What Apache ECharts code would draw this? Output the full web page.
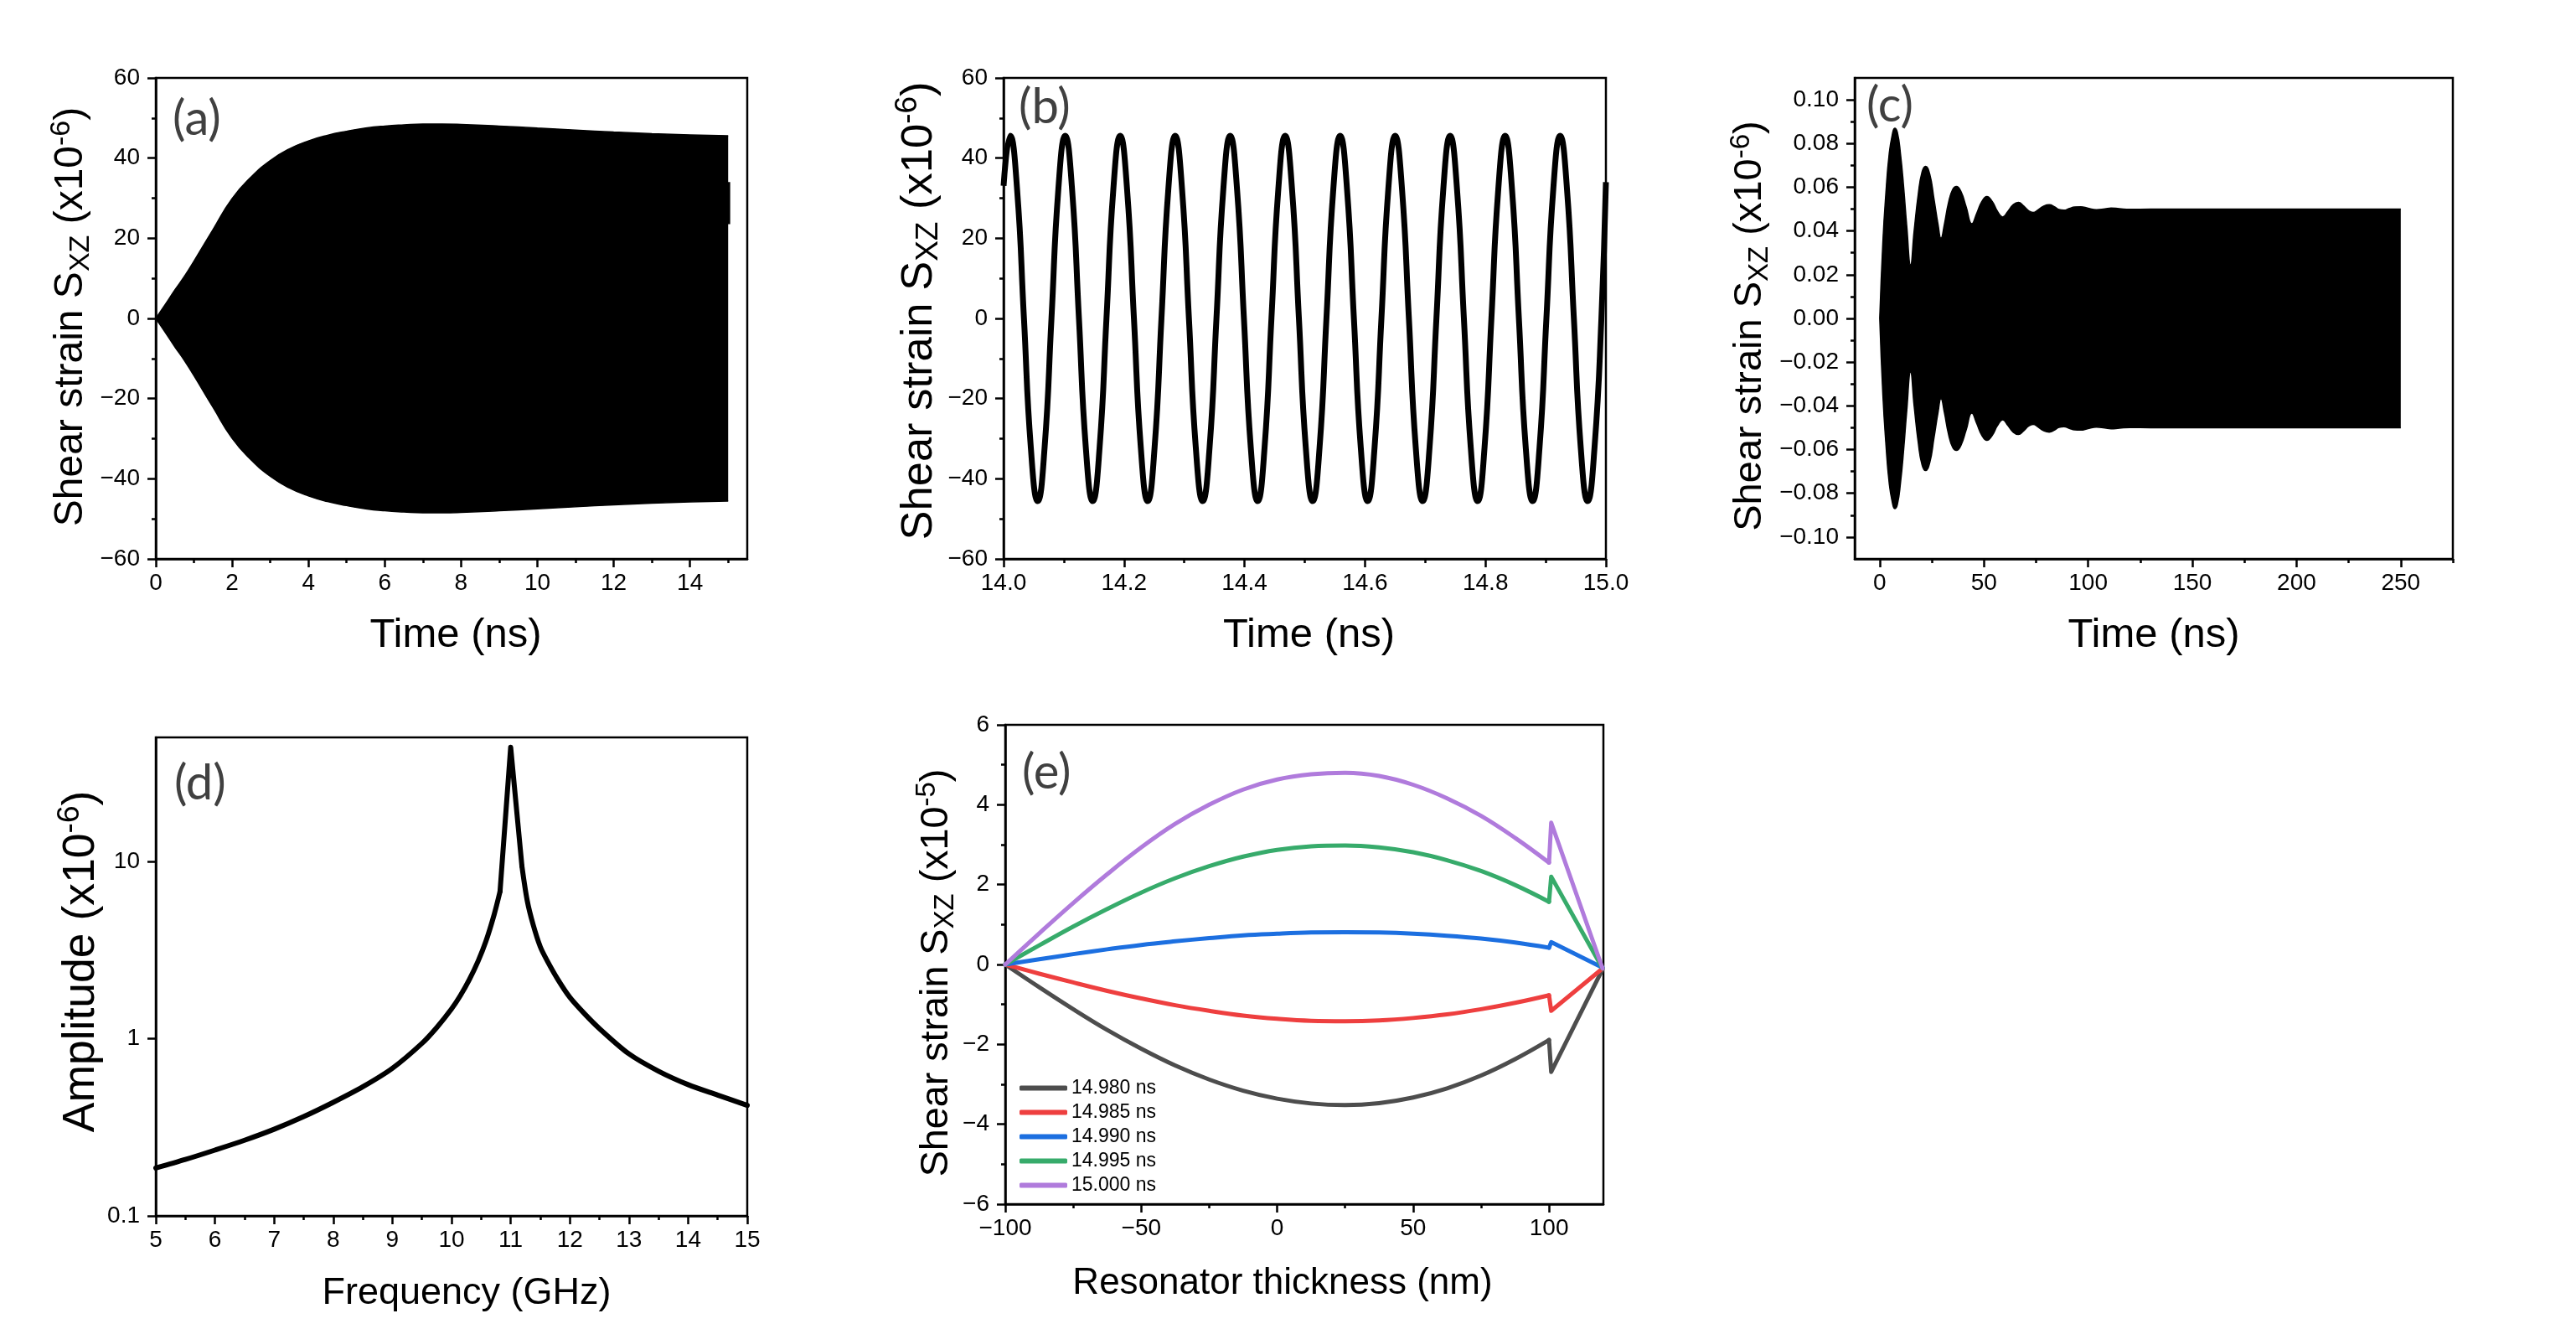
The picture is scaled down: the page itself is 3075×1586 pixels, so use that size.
<!DOCTYPE html>
<html>
<head>
<meta charset="utf-8">
<script src="https://cdn.jsdelivr.net/npm/echarts@6/dist/echarts.min.js"></script>
<style>
html,body{margin:0;padding:0;background:#fff;}
#c{width:3075px;height:1586px;}
</style>
</head>
<body>
<div id="c"></div>
<script>
// ---------------- (a) envelope of the driven oscillation, 0-15 ns ----------------
const aTime  = [0,0.25,0.5,0.75,1,1.5,2,2.5,3,3.5,4,4.5,5,5.5,6,6.5,7,7.5,8,9,10,11,12,13,14,15];
const aUpper = [0,3.5,7.1,10.5,14.3,22.2,29.9,35.3,39.4,42.3,44.3,45.7,46.7,47.5,48.0,48.3,48.5,48.5,48.4,48.0,47.5,47.0,46.5,46.1,45.8,45.6];
const aLower = [0,-3.5,-7.1,-10.5,-14.3,-22.2,-29.9,-35.3,-39.4,-42.3,-44.3,-45.7,-46.7,-47.5,-48.0,-48.3,-48.5,-48.5,-48.4,-48.0,-47.5,-47.0,-46.5,-46.1,-45.8,-45.6];
const aEndTime = [15.02,15.02];
const aEndStrain = [23.5,34];
const aXTicks = [0,2,4,6,8,10,12,14];
const aXMinor = [1,3,5,7,9,11,13,15];
const aYTicks = [-60,-40,-20,0,20,40,60];
const aYMinor = [-50,-30,-10,10,30,50];

// ---------------- (b) 14-15 ns detail ----------------
const bTime = [14.0000,
 14.0110,14.0224,14.0338,14.0452,14.0567,14.0681,14.0795,14.0909,
 14.1023,14.1137,14.1251,14.1365,14.1480,14.1594,14.1708,14.1822,
 14.1936,14.2050,14.2164,14.2278,14.2393,14.2507,14.2621,14.2735,
 14.2849,14.2963,14.3077,14.3191,14.3306,14.3420,14.3534,14.3648,
 14.3762,14.3876,14.3990,14.4104,14.4219,14.4333,14.4447,14.4561,
 14.4675,14.4789,14.4903,14.5017,14.5132,14.5246,14.5360,14.5474,
 14.5588,14.5702,14.5816,14.5930,14.6045,14.6159,14.6273,14.6387,
 14.6501,14.6615,14.6729,14.6843,14.6958,14.7072,14.7186,14.7300,
 14.7414,14.7528,14.7642,14.7756,14.7871,14.7985,14.8099,14.8213,
 14.8327,14.8441,14.8555,14.8669,14.8784,14.8898,14.9012,14.9126,
 14.9240,14.9354,14.9468,14.9582,14.9697,14.9811,14.9925,
 15.0000];
const bStrain = [33.1,
 45.6,32.2,0,-32.2,-45.6,-32.2,0,32.2,
 45.6,32.2,0,-32.2,-45.6,-32.2,0,32.2,
 45.6,32.2,0,-32.2,-45.6,-32.2,0,32.2,
 45.6,32.2,0,-32.2,-45.6,-32.2,0,32.2,
 45.6,32.2,0,-32.2,-45.6,-32.2,0,32.2,
 45.6,32.2,0,-32.2,-45.6,-32.2,0,32.2,
 45.6,32.2,0,-32.2,-45.6,-32.2,0,32.2,
 45.6,32.2,0,-32.2,-45.6,-32.2,0,32.2,
 45.6,32.2,0,-32.2,-45.6,-32.2,0,32.2,
 45.6,32.2,0,-32.2,-45.6,-32.2,0,32.2,
 45.6,32.2,0,-32.2,-45.6,-32.2,0,
 34.0];
const bXTicks = [14.0,14.2,14.4,14.6,14.8,15.0];
const bXMinor = [14.1,14.3,14.5,14.7,14.9];
const bYTicks = [-60,-40,-20,0,20,40,60];
const bYMinor = [-50,-30,-10,10,30,50];

// ---------------- (c) 0-250 ns envelope ----------------
const cTime  = [0,1.5,3,4.5,6,7.2,8.5,10,11.5,13,14.8,16.5,18.5,20.3,22,24,26,28,29.4,31,33,35,36.8,39,41.5,44.2,46.5,49,51.4,54,56.5,59,61.5,64,66.5,69,71.5,73.6,76,78.5,81.3,84,86,88.4,91,93.5,96.4,100,104,108,111,115,120,130,250];
const cUpper = [0,0.035,0.058,0.075,0.084,0.087,0.085,0.075,0.060,0.042,0.0245,0.040,0.057,0.067,0.0696,0.066,0.055,0.043,0.0367,0.043,0.053,0.059,0.0604,0.058,0.051,0.0433,0.048,0.0535,0.0558,0.0535,0.049,0.0464,0.049,0.052,0.0531,0.0515,0.0492,0.0485,0.0497,0.0513,0.052,0.051,0.0498,0.0495,0.0503,0.051,0.0511,0.0504,0.0497,0.0501,0.0505,0.0502,0.0499,0.050,0.050];
const cLower = [0,-0.035,-0.058,-0.075,-0.084,-0.087,-0.085,-0.075,-0.060,-0.042,-0.0245,-0.040,-0.057,-0.067,-0.0696,-0.066,-0.055,-0.043,-0.0367,-0.043,-0.053,-0.059,-0.0604,-0.058,-0.051,-0.0433,-0.048,-0.0535,-0.0558,-0.0535,-0.049,-0.0464,-0.049,-0.052,-0.0531,-0.0515,-0.0492,-0.0485,-0.0497,-0.0513,-0.052,-0.051,-0.0498,-0.0495,-0.0503,-0.051,-0.0511,-0.0504,-0.0497,-0.0501,-0.0505,-0.0502,-0.0499,-0.050,-0.050];
const cXTicks = [0,50,100,150,200,250];
const cXMinor = [25,75,125,175,225,275];
const cYTicks = [-0.10,-0.08,-0.06,-0.04,-0.02,0,0.02,0.04,0.06,0.08,0.10];
const cYMinor = [-0.09,-0.07,-0.05,-0.03,-0.01,0.01,0.03,0.05,0.07,0.09];

// ---------------- (d) spectrum ----------------
const dFreq = [5,5.5,6,6.5,7,7.5,8,8.5,9,9.5,9.75,10,10.15,10.3,10.45,10.58,10.72,10.82,11.0,11.19,11.28,11.38,11.5,11.62,11.8,12.0,12.25,12.5,13,13.5,14,14.5,15];
const dAmp  = [0.186,0.208,0.235,0.267,0.308,0.363,0.437,0.535,0.68,0.94,1.155,1.47,1.75,2.15,2.74,3.53,5.0,6.76,44,9.4,6.0,4.39,3.3,2.74,2.15,1.71,1.38,1.14,0.82,0.655,0.55,0.48,0.42];
const dXTicks = [5,6,7,8,9,10,11,12,13,14,15];
const dXMinor = [5.5,6.5,7.5,8.5,9.5,10.5,11.5,12.5,13.5,14.5];
const dYTicks = [0.1,1,10];

// ---------------- (e) strain profiles across thickness ----------------
const eThick = [-100,-87.5,-75,-62.5,-50,-37.5,-25,-12.5,0,12.5,25,37.5,50,62.5,75,87.5,100,100.8,119.7];
const e14980 = [0,-0.57,-1.12,-1.64,-2.11,-2.53,-2.88,-3.16,-3.36,-3.48,-3.52,-3.47,-3.33,-3.1,-2.78,-2.37,-1.89,-2.69,-0.12];
const e14985 = [0,-0.23,-0.45,-0.66,-0.85,-1.02,-1.16,-1.28,-1.36,-1.41,-1.42,-1.4,-1.34,-1.25,-1.12,-0.96,-0.77,-1.16,-0.1];
const e14990 = [0,0.13,0.26,0.38,0.49,0.58,0.66,0.73,0.77,0.8,0.81,0.8,0.77,0.72,0.65,0.55,0.42,0.56,-0.08];
const e14995 = [0,0.48,0.95,1.39,1.8,2.16,2.46,2.7,2.87,2.96,2.98,2.93,2.81,2.61,2.34,1.99,1.57,2.2,-0.1];
const e15000 = [0,0.78,1.54,2.26,2.93,3.52,4.0,4.38,4.63,4.76,4.8,4.72,4.5,4.16,3.72,3.17,2.55,3.55,-0.1];
const eLabels = ['14.980 ns','14.985 ns','14.990 ns','14.995 ns','15.000 ns'];
const eColors = ['#4d4d4d','#ee3f3f','#1c6fe0','#37ab6b','#b07bdc'];
const eXTicks = [-100,-50,0,50,100];
const eXMinor = [-75,-25,25,75];
const eYTicks = [-6,-4,-2,0,2,4,6];
const eYMinor = [-5,-3,-1,1,3,5];

// ---------------- helpers ----------------
const FONT = '"Liberation Sans", Arial, sans-serif';
const zip = (xs, ys) => xs.map((x, i) => [x, ys[i]]);
const minus = s => String(s).replace(/^-/, '\u2212');

function titleRich(fs) {
  const small = Math.round(fs * 0.7);
  return {
    n:   {fontSize: fs, fontFamily: FONT, color: '#000', lineHeight: fs, padding: [Math.round(fs*0.17),0,0,0], verticalAlign: 'top'},
    sub: {fontSize: small, fontFamily: FONT, color: '#000', lineHeight: small, padding: [Math.round(fs*0.56),0,0,0], verticalAlign: 'top'},
    sup: {fontSize: small, fontFamily: FONT, color: '#000', lineHeight: small, padding: [Math.round(fs*0.08),0,0,0], verticalAlign: 'top'}
  };
}
// shift: moves the title along its axis (pixels; + = right for x titles, up for y titles)
function mainAxis(dim, gi, min, max, ticks, fmt, name, gap, fs, shift, type) {
  const pad = shift >= 0 ? [0, 0, 0, 2 * shift] : [0, -2 * shift, 0, 0];
  const a = {
    type: type || 'value', gridIndex: gi, min: min, max: max,
    position: dim === 'x' ? 'bottom' : 'left',
    axisLine: {show: true, onZero: false, lineStyle: {color: '#000', width: 2.5}},
    axisTick: {show: true, inside: false, length: 10, customValues: ticks, lineStyle: {color: '#000', width: 2.5}},
    axisLabel: {show: true, customValues: ticks, formatter: fmt, margin: dim === 'x' ? 15 : 19,
                color: '#000', fontSize: 28, fontFamily: FONT},
    splitLine: {show: false},
    name: name, nameLocation: 'middle', nameGap: gap,
    nameTextStyle: {fontSize: fs, fontFamily: FONT, color: '#000', padding: pad, rich: titleRich(fs)}
  };
  if (type === 'log') a.logBase = 10;
  return a;
}
function minorAxis(dim, gi, min, max, ticks) {
  return {
    type: 'value', gridIndex: gi, min: min, max: max,
    position: dim === 'x' ? 'bottom' : 'left',
    axisLine: {show: false, onZero: false},
    axisTick: {show: true, inside: false, length: 5, customValues: ticks, lineStyle: {color: '#000', width: 2.5}},
    axisLabel: {show: false},
    splitLine: {show: false}
  };
}
const strainTitle6 = '{n|Shear strain S}{sub|XZ}{n| (x10}{sup|-6}{n|)}';
const strainTitle5 = '{n|Shear strain S}{sub|XZ}{n| (x10}{sup|-5}{n|)}';
const ampTitle = '{n|Amplitude (x10}{sup|-6}{n|)}';

const grids = [
  {left: 186,  top: 93,  width: 706, height: 574},
  {left: 1198, top: 93,  width: 719, height: 574},
  {left: 2214, top: 93,  width: 714, height: 574},
  {left: 186,  top: 880, width: 706, height: 571},
  {left: 1200, top: 865, width: 714, height: 572}
].map(g => Object.assign(g, {show: true, borderColor: '#000', borderWidth: 2.5, backgroundColor: 'transparent', containLabel: false}));

const xAxes = [
  mainAxis('x', 0, 0, 15.5, aXTicks, v => String(v), 'Time (ns)', 67, 49, 5),
  mainAxis('x', 1, 14, 15, bXTicks, v => v.toFixed(1), 'Time (ns)', 67, 49, 5),
  mainAxis('x', 2, -12, 275, cXTicks, v => String(v), 'Time (ns)', 67, 49, 0),
  mainAxis('x', 3, 5, 15, dXTicks, v => String(v), 'Frequency (GHz)', 70, 45, 18),
  mainAxis('x', 4, -100, 120, eXTicks, v => minus(v), 'Resonator thickness (nm)', 73, 44, -26),
  minorAxis('x', 0, 0, 15.5, aXMinor),
  minorAxis('x', 1, 14, 15, bXMinor),
  minorAxis('x', 2, -12, 275, cXMinor),
  minorAxis('x', 3, 5, 15, dXMinor),
  minorAxis('x', 4, -100, 120, eXMinor)
];
const yAxes = [
  mainAxis('y', 0, -60, 60, aYTicks, v => minus(v), strainTitle6, 85, 48, 2),
  mainAxis('y', 1, -60, 60, bYTicks, v => minus(v), strainTitle6, 77, 52.5, 9),
  mainAxis('y', 2, -0.11, 0.11, cYTicks, v => minus(Number(v).toFixed(2)), strainTitle6, 109, 47, -9),
  mainAxis('y', 3, 0.1, 50, dYTicks, v => String(v), ampTitle, 69, 53.5, 18, 'log'),
  mainAxis('y', 4, -6, 6, eYTicks, v => minus(v), strainTitle5, 66, 46.7, -10),
  minorAxis('y', 0, -60, 60, aYMinor),
  minorAxis('y', 1, -60, 60, bYMinor),
  minorAxis('y', 2, -0.11, 0.11, cYMinor),
  minorAxis('y', 4, -6, 6, eYMinor)
];

const bandStyle = (gi, data) => ({
  type: 'line', xAxisIndex: gi, yAxisIndex: gi, data: data, symbol: 'none', smooth: 0.5,
  lineStyle: {color: '#000', width: 1.5}, areaStyle: {color: '#000', opacity: 1}, silent: true
});
const dLine = (data, smooth) => ({
  type: 'line', xAxisIndex: 3, yAxisIndex: 3, data: data, symbol: 'none', smooth: smooth,
  lineStyle: {color: '#000', width: 6, join: 'round', cap: 'round'}, silent: true
});

const dPts = zip(dFreq, dAmp);
const series = [
  bandStyle(0, zip(aTime, aUpper)),
  bandStyle(0, zip(aTime, aLower)),
  {type: 'line', xAxisIndex: 0, yAxisIndex: 0, data: zip(aEndTime, aEndStrain), symbol: 'none',
   lineStyle: {color: '#000', width: 3}, silent: true},
  {type: 'line', xAxisIndex: 1, yAxisIndex: 1, data: zip(bTime, bStrain), symbol: 'none', smooth: 0.5,
   lineStyle: {color: '#000', width: 7}, silent: true},
  bandStyle(2, zip(cTime, cUpper)),
  bandStyle(2, zip(cTime, cLower)),
  dLine(dPts.slice(0, 18), 0.3),
  dLine(dPts.slice(17, 20), false),
  dLine(dPts.slice(19), 0.3)
];
const eSeriesData = [e14980, e14985, e14990, e14995, e15000];
eSeriesData.forEach((vals, i) => {
  const pts = zip(eThick, vals);
  const base = {
    type: 'line', name: eLabels[i], xAxisIndex: 4, yAxisIndex: 4, symbol: 'none',
    lineStyle: {color: eColors[i], width: 5, join: 'round', cap: 'round'}, itemStyle: {color: eColors[i]},
    z: 3 + i, silent: true
  };
  series.push(Object.assign({}, base, {data: pts.slice(0, 17), smooth: 0.4}));
  series.push(Object.assign({}, base, {data: pts.slice(16), smooth: false}));
});

const panelLabels = [
  {t: '(a)', x: 206,  y: 113},
  {t: '(b)', x: 1216, y: 99},
  {t: '(c)', x: 2228, y: 97},
  {t: '(d)', x: 208,  y: 906},
  {t: '(e)', x: 1220, y: 893}
];

const chart = echarts.init(document.getElementById('c'), null, {renderer: 'canvas', devicePixelRatio: 1});
chart.setOption({
  animation: false,
  backgroundColor: '#fff',
  grid: grids,
  xAxis: xAxes,
  yAxis: yAxes,
  legend: {
    data: eLabels, orient: 'vertical', left: 1217, top: 1287, padding: 0,
    icon: 'roundRect', itemWidth: 57, itemHeight: 6, itemGap: 6,
    textStyle: {fontSize: 23, lineHeight: 22, color: '#000', fontFamily: FONT},
    selectedMode: false
  },
  graphic: panelLabels.map(p => ({
    type: 'text', x: p.x, y: p.y, silent: true,
    style: {text: p.t, font: '58px Lato', fill: '#404040', align: 'left', verticalAlign: 'top'}
  })),
  series: series
});
</script>
</body>
</html>
